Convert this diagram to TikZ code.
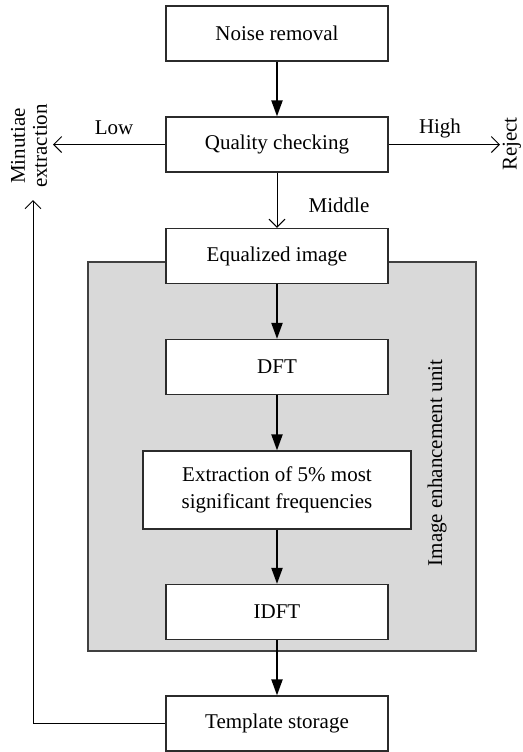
\documentclass[tikz,border=0pt]{standalone}
\usepackage{fontspec}
\setmainfont{Liberation Serif}
\usetikzlibrary{arrows.meta, positioning}
\definecolor{rahmen}{HTML}{2B2B2B}
\definecolor{grau}{HTML}{D9D9D9}
\definecolor{grauRand}{HTML}{404040}

\begin{document}
\begin{tikzpicture}[x=0.5pt, y=-0.5pt,
    stepbox/.style={draw=rahmen, line width=0.6pt, fill=white, inner sep=0pt,
      minimum width=111pt, minimum height=27.5pt, font=\fontsize{10.5}{12}\selectfont},
    flow/.style={line width=1pt, -{Triangle[length=8pt, width=5.5pt]}},
    branch/.style={line width=0.5pt, -{Straight Barb[length=4pt, width=8pt]}},
    lbl/.style={font=\fontsize{10.5}{12}\selectfont}]
      \useasboundingbox (0,0) rectangle (523,752);

      % Image enhancement unit
      \draw[grauRand, fill=grau, line width=0.6pt] (88,262) rectangle (476,651);
      \node[lbl, rotate=90] (unit) at (437,463) {Image enhancement unit};

      % Steps
      \node[stepbox] (noise) at (277,33.5) {Noise removal};
      \node[stepbox] (quality) at (277,144.5) {Quality checking};
      \node[stepbox] (equal) at (277,256) {Equalized image};
      \node[stepbox] (dft) at (277,367) {DFT};
      \node[stepbox, minimum width=134pt, minimum height=39pt, align=center,
        font=\fontsize{10.5}{13.5}\selectfont] (extract) at (277,490)
        {Extraction of 5\% most\\significant frequencies};
      \node[stepbox] (idft) at (277,612) {IDFT};
      \node[stepbox] (store) at (277,723.5) {Template storage};

      % Outcomes
      \node[lbl, rotate=90, align=center, font=\fontsize{10.5}{11}\selectfont]
        (minutiae) at (29,146) {Minutiae\\extraction};
      \node[lbl, rotate=90] (reject) at (512,144) {Reject};
      \coordinate (lowEnd) at (53,144.5);
      \coordinate (highEnd) at (500,144.5);
      \coordinate (backUp) at (33,200);

      % Connectors
      \draw[flow] (noise) -- (quality);
      \draw[branch] (quality) -- (lowEnd);
      \draw[branch] (quality) -- (highEnd);
      \draw[branch] (quality) -- (equal);
      \draw[flow] (equal) -- (dft);
      \draw[flow] (dft) -- (extract);
      \draw[flow] (extract) -- (idft);
      \draw[flow] (idft) -- (store);
      \draw[branch] (store.west) -| (backUp);

      \node[lbl] (low) at (114,128) {Low};
      \node[lbl] (high) at (440,128) {High};
      \node[lbl] (middle) at (339,205) {Middle};
    \end{tikzpicture}
\end{document}
